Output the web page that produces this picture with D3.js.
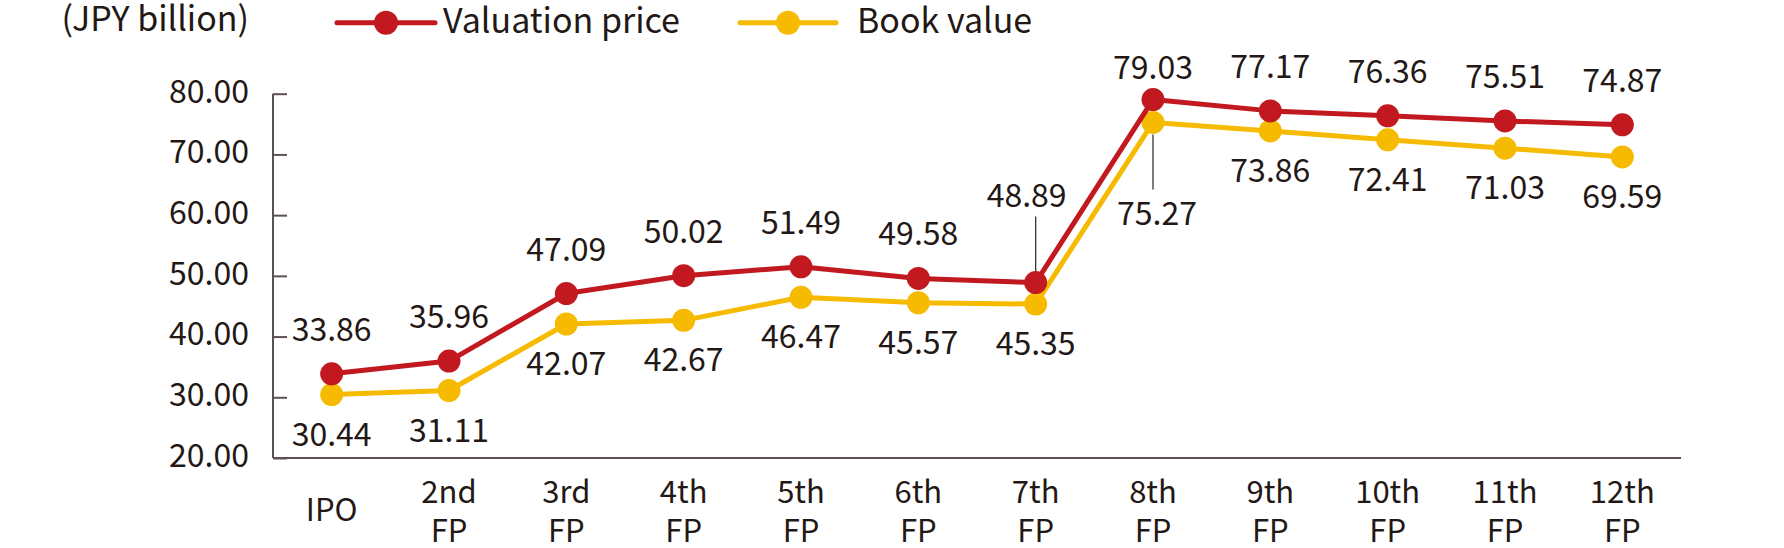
<!DOCTYPE html>
<html>
<head>
<meta charset="utf-8">
<script src="https://cdn.jsdelivr.net/npm/d3@7"></script>
<style>
  html, body { margin: 0; padding: 0; background: #fff; }
  svg { display: block; font-family: "Noto Sans CJK JP", "Noto Sans", sans-serif; }
</style>
</head>
<body>
<svg id="chart" width="1784" height="548"></svg>
<script>
const categories = ["IPO", "2nd\nFP", "3rd\nFP", "4th\nFP", "5th\nFP", "6th\nFP", "7th\nFP", "8th\nFP", "9th\nFP", "10th\nFP", "11th\nFP", "12th\nFP"];
const valuationPrice = [33.86, 35.96, 47.09, 50.02, 51.49, 49.58, 48.89, 79.03, 77.17, 76.36, 75.51, 74.87];
const bookValue = [30.44, 31.11, 42.07, 42.67, 46.47, 45.57, 45.35, 75.27, 73.86, 72.41, 71.03, 69.59];
const yTicks = [20, 30, 40, 50, 60, 70, 80];
const seriesNames = ["Valuation price", "Book value"];
const unitLabel = "(JPY billion)";

const RED = "#C1191F";
const YELLOW = "#F6BB00";
const TEXT = "#231815";
const AXIS = "#5b5250";

const svg = d3.select("#chart");
const pLeft = 273, pRight = 1681, pTop = 93.7, pBottom = 458;

const x = d3.scalePoint().domain(categories).range([pLeft, pRight]).padding(0.5);
const y = d3.scaleLinear().domain([20, 80]).range([pBottom, pTop]);

// Y axis
const yAxis = svg.append("g").attr("transform", `translate(${pLeft},0)`)
  .call(d3.axisRight(y).tickValues(yTicks).tickSize(14).tickFormat(d3.format(".2f")));
yAxis.select(".domain").attr("stroke", AXIS).attr("stroke-width", 2).attr("d", `M0,${pTop}V${pBottom}`);
yAxis.selectAll(".tick line").attr("stroke", AXIS).attr("stroke-width", 2);
yAxis.selectAll(".tick text")
  .attr("x", -24).attr("dy", "0.26em")
  .attr("text-anchor", "end")
  .attr("fill", TEXT).attr("font-size", 32).attr("font-family", "Noto Sans CJK JP");

// X axis
const xAxis = svg.append("g").attr("transform", `translate(0,${pBottom})`)
  .call(d3.axisBottom(x).tickSize(0).tickFormat(""));
xAxis.select(".domain").attr("stroke", AXIS).attr("stroke-width", 2).attr("d", `M${pLeft},0H${pRight}`);

const xl = svg.append("g");
categories.forEach(c => {
  const lines = c.split("\n");
  if (lines.length === 1) {
    xl.append("text").attr("x", x(c)).attr("y", 521).attr("text-anchor", "middle")
      .attr("fill", TEXT).attr("font-size", 31).text(lines[0]);
  } else {
    lines.forEach((ln, i) => xl.append("text").attr("x", x(c)).attr("y", 503 + i * 39)
      .attr("text-anchor", "middle").attr("fill", TEXT).attr("font-size", 31).text(ln));
  }
});

// Unit label
svg.append("text").attr("x", 249).attr("y", 31).attr("text-anchor", "end")
  .attr("fill", TEXT).attr("font-size", 34).text(unitLabel);

// Legend
const legend = [
  { name: seriesNames[0], color: RED, x0: 337, x1: 435, tx: 443 },
  { name: seriesNames[1], color: YELLOW, x0: 740, x1: 836, tx: 857 }
];
legend.forEach(l => {
  svg.append("line").attr("x1", l.x0).attr("x2", l.x1).attr("y1", 22.7).attr("y2", 22.7)
    .attr("stroke", l.color).attr("stroke-width", 5).attr("stroke-linecap", "round");
  svg.append("circle").attr("cx", (l.x0 + l.x1) / 2).attr("cy", 22.7).attr("r", 12).attr("fill", l.color);
  svg.append("text").attr("x", l.tx).attr("y", 33).attr("fill", TEXT).attr("font-size", 34).text(l.name);
});

const line = d3.line().x((d, i) => x(categories[i])).y(d => y(d));

function drawSeries(values, color) {
  svg.append("path").datum(values).attr("d", line).attr("fill", "none")
    .attr("stroke", color).attr("stroke-width", 5).attr("stroke-linejoin", "round");
  svg.append("g").selectAll("circle").data(values).join("circle")
    .attr("cx", (d, i) => x(categories[i])).attr("cy", d => y(d)).attr("r", 11.5).attr("fill", color);
}

// Leader lines (drawn under markers)
const leaders = svg.append("g");
leaders.append("line").attr("x1", x(categories[6])).attr("x2", x(categories[6]))
  .attr("y1", y(valuationPrice[6]) - 66).attr("y2", y(valuationPrice[6]) - 10)
  .attr("stroke", "#3a3331").attr("stroke-width", 1.3);
leaders.append("line").attr("x1", x(categories[7])).attr("x2", x(categories[7]))
  .attr("y1", y(bookValue[7]) + 12).attr("y2", y(bookValue[7]) + 67)
  .attr("stroke", "#3a3331").attr("stroke-width", 1.3);

drawSeries(bookValue, YELLOW);
drawSeries(valuationPrice, RED);

// Data labels
function redDy(i) { return i === 6 ? -76 : (i === 7 ? -21 : -33); }
function yellowDy(i) { return i === 7 ? 103 : 51; }
svg.append("g").selectAll("text").data(valuationPrice).join("text")
  .attr("x", (d, i) => x(categories[i]) + (i === 6 ? -9 : 0))
  .attr("y", (d, i) => y(d) + redDy(i))
  .attr("text-anchor", "middle").attr("fill", TEXT).attr("font-size", 32)
  .text(d => d3.format(".2f")(d));
svg.append("g").selectAll("text").data(bookValue).join("text")
  .attr("x", (d, i) => x(categories[i]) + (i === 7 ? 4 : 0))
  .attr("y", (d, i) => y(d) + yellowDy(i))
  .attr("text-anchor", "middle").attr("fill", TEXT).attr("font-size", 32)
  .text(d => d3.format(".2f")(d));
</script>
</body>
</html>
